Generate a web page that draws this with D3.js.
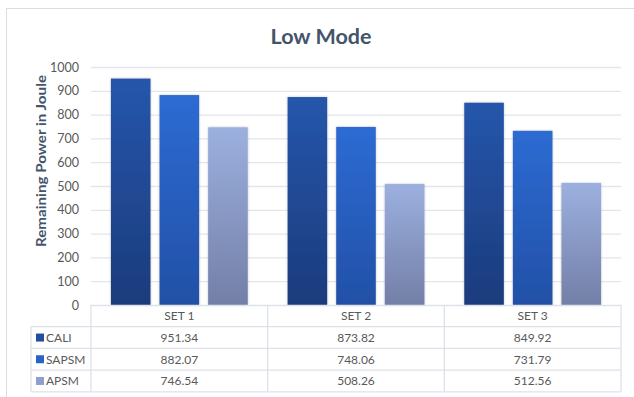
<!DOCTYPE html>
<html>
<head>
<meta charset="utf-8">
<script src="https://cdn.jsdelivr.net/npm/d3@7"></script>
<style>
  html, body { margin: 0; padding: 0; background: #fff; }
  svg { display: block; font-family: Lato, "Open Sans", sans-serif; }
</style>
</head>
<body>
<svg id="chart" width="634" height="397"></svg>
<script>
// Remaining power per set, one array per method
const sets = ["SET 1", "SET 2", "SET 3"];
const seriesNames = ["CALI", "SAPSM", "APSM"];
const cali = [951.34, 873.82, 849.92];
const sapsm = [882.07, 748.06, 731.79];
const apsm = [746.54, 508.26, 512.56];
const yTicks = [0, 100, 200, 300, 400, 500, 600, 700, 800, 900, 1000];
const chartTitle = "Low Mode";
const yTitle = "Remaining Power in Joule";

const seriesValues = [cali, sapsm, apsm];
const gradients = [
  ["#2556ab", "#1c3b7c"],
  ["#2d6bd3", "#2250a6"],
  ["#9cb0df", "#737fa7"]
];
const swatch = ["#234ea0", "#2a63c6", "#8e9fcf"];

const svg = d3.select("#chart");
const W = 634, H = 397;
const plot = { left: 91, right: 621, top: 67, bottom: 305 };
const rowH = 21.7;
const tableLeft = 31;

// outer chart frame
svg.append("rect")
  .attr("x", 6.5).attr("y", 8.5)
  .attr("width", W).attr("height", H)
  .attr("fill", "#fff").attr("stroke", "#d9dde6").attr("stroke-width", 1);

const defs = svg.append("defs");
gradients.forEach((g, i) => {
  const lg = defs.append("linearGradient")
    .attr("id", "grad" + i).attr("x1", 0).attr("y1", 0).attr("x2", 0).attr("y2", 1);
  lg.append("stop").attr("offset", "0%").attr("stop-color", g[0]);
  lg.append("stop").attr("offset", "100%").attr("stop-color", g[1]);
});
const shadow = defs.append("filter").attr("id", "shadow")
  .attr("x", "-20%").attr("y", "-10%").attr("width", "140%").attr("height", "120%");
shadow.append("feDropShadow").attr("dx", 0).attr("dy", 0)
  .attr("stdDeviation", 1.2).attr("flood-color", "#6b7280").attr("flood-opacity", 0.45);

const x0 = d3.scaleBand().domain(sets).range([plot.left, plot.right]).paddingInner(0).paddingOuter(0);
const x1 = d3.scaleBand().domain(seriesNames).range([0, x0.bandwidth()]).paddingInner(0.186).paddingOuter(0.41);
const y = d3.scaleLinear().domain([0, 1000]).range([plot.bottom, plot.top]);

// title
svg.append("text")
  .attr("x", 321).attr("y", 44)
  .attr("text-anchor", "middle")
  .attr("font-size", 21.5).attr("font-weight", "bold")
  .attr("fill", "#44546a")
  .text(chartTitle);

// gridlines + tick labels
const yAxis = d3.axisLeft(y).tickValues(yTicks).tickFormat(d3.format("d"))
  .tickSize(-(plot.right - plot.left)).tickPadding(13);
const ga = svg.append("g").attr("transform", `translate(${plot.left},0)`).call(yAxis);
ga.select(".domain").remove();
ga.selectAll(".tick line").attr("stroke", "#e2e5ec").attr("stroke-width", 1.3)
  .attr("display", d => d === 0 ? "none" : null);
ga.selectAll(".tick text").attr("fill", "#595959").attr("font-size", 12.5)
  .attr("font-family", "Lato, sans-serif").attr("dx", 1);

// y axis title
svg.append("text")
  .attr("transform", "translate(45.5,161) rotate(-90)")
  .attr("text-anchor", "middle")
  .attr("font-size", 13.5).attr("font-weight", "bold")
  .attr("textLength", 172).attr("lengthAdjust", "spacingAndGlyphs")
  .attr("fill", "#44546a")
  .text(yTitle);

// bars
const groups = svg.append("g").selectAll("g")
  .data(sets).join("g")
  .attr("transform", d => `translate(${x0(d)},0)`);
groups.selectAll("rect")
  .data((d, i) => seriesNames.map((s, k) => ({ s, k, v: seriesValues[k][i] })))
  .join("rect")
  .attr("x", d => x1(d.s))
  .attr("width", x1.bandwidth())
  .attr("y", d => y(d.v))
  .attr("height", d => y(0) - y(d.v))
  .attr("fill", d => `url(#grad${d.k})`)
  .attr("filter", "url(#shadow)");

// data table
const tbl = svg.append("g");
const lineColor = "#dde1ea";
const tableBottom = plot.bottom + rowH * 4;
// horizontal rules
tbl.append("line").attr("x1", plot.left).attr("x2", plot.right)
  .attr("y1", plot.bottom + 0.5).attr("y2", plot.bottom + 0.5)
  .attr("stroke", lineColor).attr("stroke-width", 1.3);
for (let r = 1; r <= 4; r++) {
  const yy = plot.bottom + rowH * r;
  tbl.append("line").attr("x1", tableLeft).attr("x2", plot.right)
    .attr("y1", yy).attr("y2", yy)
    .attr("stroke", lineColor).attr("stroke-width", 1.3);
}
// vertical rules
tbl.append("line").attr("x1", tableLeft).attr("x2", tableLeft)
  .attr("y1", plot.bottom + rowH).attr("y2", tableBottom)
  .attr("stroke", lineColor).attr("stroke-width", 1.3);
[plot.left, ...sets.map(s => x0(s) + x0.bandwidth())].forEach(xx => {
  tbl.append("line").attr("x1", xx).attr("x2", xx)
    .attr("y1", plot.bottom).attr("y2", tableBottom)
    .attr("stroke", lineColor).attr("stroke-width", 1.3);
});
// header
tbl.selectAll("text.hdr").data(sets).join("text")
  .attr("class", "hdr")
  .attr("x", d => x0(d) + x0.bandwidth() / 2)
  .attr("y", plot.bottom + rowH / 2 + 4.5)
  .attr("text-anchor", "middle")
  .attr("font-size", 12).attr("fill", "#595959")
  .text(d => d);
// rows
seriesNames.forEach((s, k) => {
  const cy = plot.bottom + rowH * (k + 1) + rowH / 2;
  tbl.append("rect").attr("x", 36).attr("y", cy - 4).attr("width", 8).attr("height", 8)
    .attr("fill", swatch[k]);
  tbl.append("text").attr("x", 46).attr("y", cy + 4.5)
    .attr("font-size", 12).attr("fill", "#595959").text(s);
  tbl.selectAll(null).data(sets).join("text")
    .attr("x", d => x0(d) + x0.bandwidth() / 2)
    .attr("y", cy + 4.5)
    .attr("text-anchor", "middle")
    .attr("font-size", 12).attr("fill", "#595959")
    .text((d, i) => seriesValues[k][i].toFixed(2));
});
</script>
</body>
</html>
